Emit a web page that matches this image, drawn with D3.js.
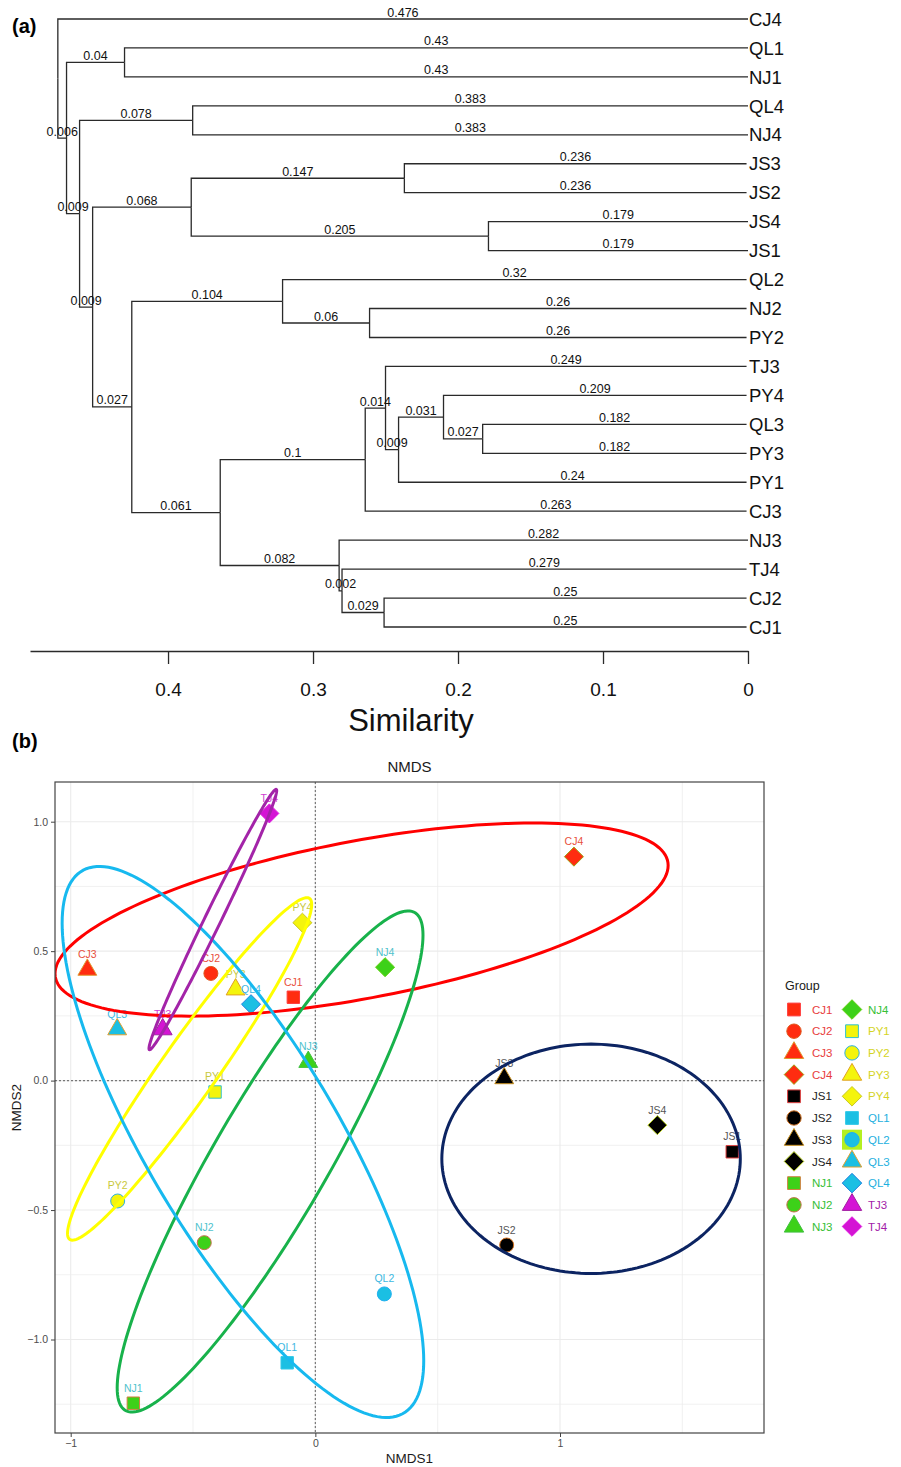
<!DOCTYPE html>
<html><head><meta charset="utf-8">
<script src="https://cdn.jsdelivr.net/npm/d3@7"></script>
<style>
body{margin:0;background:#fff}
svg{display:block}
text{font-family:"Liberation Sans",Arial,Helvetica,sans-serif}
</style>
</head><body>
<svg id="chart" width="901" height="1467"></svg>
<script>
// ================= Panel (a): dendrogram data =================
const nodeIds = ["root","CJ4","n1","n2","QL1","NJ1","n3","n4","QL4","NJ4","n5","n6","n7","JS3","JS2","n8","JS4","JS1",
  "n9","n10","QL2","n11","NJ2","PY2","n12","n13","n14","TJ3","n15","n16","PY4","n17","QL3","PY3","PY1","CJ3",
  "n18","NJ3","n19","TJ4","n20","CJ2","CJ1"];
const nodeParents = ["","root","root","n1","n2","n2","n1","n3","n4","n4","n3","n5","n6","n7","n7","n6","n8","n8",
  "n5","n9","n10","n10","n11","n11","n9","n12","n13","n14","n14","n15","n16","n16","n17","n17","n15","n13",
  "n12","n18","n18","n19","n19","n20","n20"];
const branchLengths = [0,0.476,0.006,0.04,0.43,0.43,0.009,0.078,0.383,0.383,0.009,0.068,0.147,0.236,0.236,0.205,0.179,0.179,
  0.027,0.104,0.32,0.06,0.26,0.26,0.061,0.1,0.014,0.249,0.009,0.031,0.209,0.027,0.182,0.182,0.24,0.263,
  0.082,0.282,0.002,0.279,0.029,0.25,0.25];
const similarityTicks = [0.4,0.3,0.2,0.1,0];

// ================= Panel (b): NMDS data =================
const samples = ["CJ1","CJ2","CJ3","CJ4","JS1","JS2","JS3","JS4","NJ1","NJ2","NJ3",
                 "NJ4","PY1","PY2","PY3","PY4","QL1","QL2","QL3","QL4","TJ3","TJ4"];
const nmds1 = [-0.090,-0.427,-0.932,1.057,1.704,0.782,0.772,1.398,-0.744,-0.454,-0.029,
                0.285,-0.410,-0.808,-0.326,-0.053,-0.115,0.282,-0.810,-0.263,-0.624,-0.188];
const nmds2 = [0.322,0.414,0.428,0.865,-0.275,-0.635,0.009,-0.172,-1.246,-0.626,0.072,
                0.438,-0.044,-0.465,0.352,0.610,-1.090,-0.824,0.198,0.295,0.198,1.032];
const groups = ["CJ","JS","NJ","PY","QL","TJ"];
// confidence ellipses: centre and two conjugate semi-axes (data units)
const ellipseCx = [0.189,1.127,-0.185,-0.514,-0.296,-0.419];
const ellipseCy = [0.622,-0.302,-0.3125,0.045,-0.237,0.622];
const ellipseAx = [1.253,0.610,0.625,0.499,0.739,0.261];
const ellipseAy = [0.209,0.0,0.874,0.635,-0.845,0.498];
const ellipseBx = [0,0,0,0,0,0];
const ellipseBy = [0.309,0.443,0.416,0.185,0.647,0.070];
const xTicks = [-1,0,1];
const yTicks = [-1,-0.5,0,0.5,1];
const xGrid = [-1,-0.5,0,0.5,1,1.5];
const yGrid = [-1.25,-1,-0.75,-0.5,-0.25,0,0.25,0.5,0.75,1];

// ================= Styles =================
const ellipseColor = {CJ:"#ff0000",JS:"#0c2462",NJ:"#18b24b",PY:"#ffff00",QL:"#17b9ef",TJ:"#a324a8"};
const fillColor = {CJ:"#ff2c10",JS:"#000000",NJ:"#3dd119",PY:"#f4f40c",QL:"#1bbfe3",TJ:"#d414d4"};
const strokeColor = {CJ1:"#ff3a3a",CJ2:"#e0561c",CJ3:"#e09a30",CJ4:"#a0a010",JS1:"#e04040",JS2:"#d07020",JS3:"#c89020",JS4:"#b8d020",
  NJ1:"#d08040",NJ2:"#c87050",NJ3:"#40c040",NJ4:"#60d010",PY1:"#30c0d0",PY2:"#30b0e0",PY3:"#e0a020",PY4:"#c8c820",
  QL1:"#30c8e8",QL2:"#20b0f0",QL3:"#e0a030",QL4:"#2080e0",TJ3:"#a020a0",TJ4:"#e020e0"};
const labelColor = {CJ:"#e8503c",JS:"#555555",NJ:"#4fc2cc",PY:"#c8c83c",QL:"#3db8e2",TJ:"#d040d0"};
const legendTextColor = {CJ:"#e83c3c",JS:"#222222",NJ:"#36c036",PY:"#d4d424",QL:"#1cb0e0",TJ:"#a21ca8"};
const shapeByNum = {"1":"square","2":"circle","3":"triangle","4":"diamond"};

const svg = d3.select("#chart");
const lineCol = "#2a2a2a";

// ================= Panel (a) =================
svg.append("text").attr("x",12).attr("y",33).attr("font-size",20).attr("font-weight","bold").text("(a)");

const xSim = d3.scaleLinear().domain([0,0.4952]).range([748,30]);
const table = nodeIds.map((id,i)=>({id, parent:nodeParents[i], len:branchLengths[i]}));
const root = d3.stratify().id(d=>d.id).parentId(d=>d.parent)(table);
root.eachBefore(n=>{ n.dist = n.parent ? n.parent.dist + n.data.len : 0; });
const leaves = root.leaves();
const treeHeight = d3.max(leaves, d=>d.dist);
const yLeaf = d3.scalePoint().domain(leaves.map(d=>d.id)).range([19,627]);
root.eachAfter(n=>{
  n.py = n.children ? (n.children[0].py + n.children[n.children.length-1].py)/2 : yLeaf(n.id);
  n.px = xSim(treeHeight - n.dist);
});
const gTree = svg.append("g");
const links = root.descendants().slice(1);
gTree.selectAll("path.link").data(links).join("path")
  .attr("fill","none").attr("stroke",lineCol).attr("stroke-width",1.3)
  .attr("d", d=>`M${d.parent.px},${d.parent.py}V${d.py}H${d.px}`);
gTree.selectAll("text.bl").data(links).join("text")
  .attr("x", d=>(d.parent.px + d.px)/2).attr("y", d=>d.py - 2.5)
  .attr("text-anchor","middle").attr("font-size",12.5).attr("fill","#111")
  .text(d=>String(d.data.len));
gTree.selectAll("text.leaf").data(leaves).join("text")
  .attr("x", 749).attr("y", d=>d.py).attr("dy","0.36em")
  .attr("font-size",18.5).attr("fill","#111").text(d=>d.id);

const axA = svg.append("g").attr("transform","translate(0,651)")
  .call(d3.axisBottom(xSim).tickValues(similarityTicks).tickSize(13).tickSizeOuter(0).tickPadding(19).tickFormat(d=>String(d)));
axA.attr("font-family",null).attr("font-size",null);
axA.select(".domain").attr("stroke",lineCol).attr("stroke-width",1.3);
axA.selectAll(".tick line").attr("stroke",lineCol).attr("stroke-width",1.3);
axA.selectAll(".tick text").attr("font-size",19).attr("fill","#111");
svg.append("text").attr("x",411).attr("y",731).attr("text-anchor","middle").attr("font-size",31).attr("fill","#111").text("Similarity");

// ================= Panel (b) =================
svg.append("text").attr("x",12).attr("y",748).attr("font-size",20).attr("font-weight","bold").text("(b)");
const P = {left:55, right:764, top:782, bottom:1433};
const xN = d3.scaleLinear().domain([-1,1]).range([70.7,560]);
const yN = d3.scaleLinear().domain([-1,1]).range([1339.5,821.7]);

svg.append("text").attr("x",(P.left+P.right)/2).attr("y",772).attr("text-anchor","middle")
  .attr("font-size",15).attr("fill","#1a1a1a").text("NMDS");

svg.append("defs").append("clipPath").attr("id","panelClip")
  .append("rect").attr("x",P.left).attr("y",P.top).attr("width",P.right-P.left).attr("height",P.bottom-P.top);

const gGrid = svg.append("g");
gGrid.selectAll("line.gx").data(xGrid).join("line")
  .attr("x1",d=>xN(d)).attr("x2",d=>xN(d)).attr("y1",P.top).attr("y2",P.bottom)
  .attr("stroke","#ebebeb").attr("stroke-width",d=>Number.isInteger(d)?1.1:0.7);
gGrid.selectAll("line.gy").data(yGrid).join("line")
  .attr("y1",d=>yN(d)).attr("y2",d=>yN(d)).attr("x1",P.left).attr("x2",P.right)
  .attr("stroke","#ebebeb").attr("stroke-width",d=>(Math.abs(d*2-Math.round(d*2))<1e-9)?1.1:0.7);
// zero reference lines
svg.append("line").attr("x1",xN(0)).attr("x2",xN(0)).attr("y1",P.top).attr("y2",P.bottom)
  .attr("stroke","#777").attr("stroke-width",1.2).attr("stroke-dasharray","2,2");
svg.append("line").attr("y1",yN(0)).attr("y2",yN(0)).attr("x1",P.left).attr("x2",P.right)
  .attr("stroke","#777").attr("stroke-width",1.2).attr("stroke-dasharray","2,2");

const R = 7;
function shapePath(shape, r){
  if(shape==="circle") return d3.symbol(d3.symbolCircle, Math.PI*r*r)();
  if(shape==="square"){ const s=r*0.886; return `M${-s},${-s}H${s}V${s}H${-s}Z`; }
  if(shape==="triangle"){ const rr=r*1.555, xc=r*1.347, yc=r*0.778; return `M0,${-rr}L${xc},${yc}L${-xc},${yc}Z`; }
  const d=r*1.2533; return `M0,${-d}L${d},0L0,${d}L${-d},0Z`;
}
const pts = samples.map((s,i)=>({name:s, x:nmds1[i], y:nmds2[i], grp:s.slice(0,2), shape:shapeByNum[s.slice(2)]}));

const gPts = svg.append("g").attr("clip-path","url(#panelClip)");
gPts.selectAll("path.pt").data(pts).join("path")
  .attr("transform",d=>`translate(${xN(d.x)},${yN(d.y)})`)
  .attr("d",d=>shapePath(d.shape, d.shape==="diamond"?7.6:R))
  .attr("fill",d=>fillColor[d.grp]).attr("stroke",d=>strokeColor[d.name]).attr("stroke-width",1);
gPts.selectAll("text.pl").data(pts).join("text")
  .attr("x",d=>xN(d.x)).attr("y",d=>yN(d.y)-11.5).attr("text-anchor","middle")
  .attr("font-size",10.5).attr("fill",d=>labelColor[d.grp]).text(d=>d.name);

// ellipses
const ellipses = groups.map((g,i)=>({grp:g, cx:ellipseCx[i], cy:ellipseCy[i], ax:ellipseAx[i], ay:ellipseAy[i], bx:ellipseBx[i], by:ellipseBy[i]}));
const ts = d3.range(0, 2*Math.PI, Math.PI/90);
const ellLine = d3.line().curve(d3.curveLinearClosed);
const gEll = svg.append("g").attr("clip-path","url(#panelClip)");
gEll.selectAll("path.ell").data(ellipses).join("path")
  .attr("fill","none").attr("stroke",d=>ellipseColor[d.grp]).attr("stroke-width",3)
  .attr("d",e=>ellLine(ts.map(t=>[
    xN(e.cx + e.ax*Math.cos(t) + e.bx*Math.sin(t)),
    yN(e.cy + e.ay*Math.cos(t) + e.by*Math.sin(t))])));

// border
svg.append("rect").attr("x",P.left).attr("y",P.top).attr("width",P.right-P.left).attr("height",P.bottom-P.top)
  .attr("fill","none").attr("stroke","#444").attr("stroke-width",1.2);

// axes
const axY = svg.append("g").attr("transform",`translate(${P.left},0)`)
  .call(d3.axisLeft(yN).tickValues(yTicks).tickSize(4).tickPadding(3).tickFormat(d3.format(".1f")));
axY.select(".domain").remove();
axY.attr("font-family",null).attr("font-size",null);
axY.selectAll(".tick line").attr("stroke","#444");
axY.selectAll(".tick text").attr("font-size",10.5).attr("fill","#4d4d4d");
const axX = svg.append("g").attr("transform",`translate(0,${P.bottom})`)
  .call(d3.axisBottom(xN).tickValues(xTicks).tickSize(4).tickPadding(3).tickFormat(d3.format("d")));
axX.select(".domain").remove();
axX.attr("font-family",null).attr("font-size",null);
axX.selectAll(".tick line").attr("stroke","#444");
axX.selectAll(".tick text").attr("font-size",10.5).attr("fill","#4d4d4d");

svg.append("text").attr("x",(P.left+P.right)/2).attr("y",1463).attr("text-anchor","middle")
  .attr("font-size",13.5).attr("fill","#1a1a1a").text("NMDS1");
svg.append("text").attr("transform",`translate(16,${(P.top+P.bottom)/2}) rotate(-90)`).attr("dy","0.35em")
  .attr("text-anchor","middle").attr("font-size",13.5).attr("fill","#1a1a1a").text("NMDS2");

// legend
const gLeg = svg.append("g");
gLeg.append("text").attr("x",785).attr("y",990).attr("font-size",12.5).attr("fill","#1a1a1a").text("Group");
const legItems = pts.map((d,i)=>({...d, col: i<11?0:1, row: i%11}));
const legX = [794, 852], legTX = [812, 868];
gLeg.selectAll("rect.bg").data(legItems.filter(d=>d.name==="QL2")).join("rect")
  .attr("x",d=>legX[d.col]-10).attr("y",d=>1009.5+d.row*21.7-10).attr("width",20).attr("height",20).attr("fill","#b4f020");
gLeg.selectAll("path.lk").data(legItems).join("path")
  .attr("transform",d=>`translate(${legX[d.col]},${1009.5+d.row*21.7})`)
  .attr("d",d=>shapePath(d.shape, d.shape==="diamond"?7.8:7.2))
  .attr("fill",d=>fillColor[d.grp]).attr("stroke",d=>strokeColor[d.name]).attr("stroke-width",1);
gLeg.selectAll("text.lt").data(legItems).join("text")
  .attr("x",d=>legTX[d.col]).attr("y",d=>1009.5+d.row*21.7).attr("dy","0.36em")
  .attr("font-size",11.5).attr("fill",d=>legendTextColor[d.grp]).text(d=>d.name);
</script>
</body></html>
